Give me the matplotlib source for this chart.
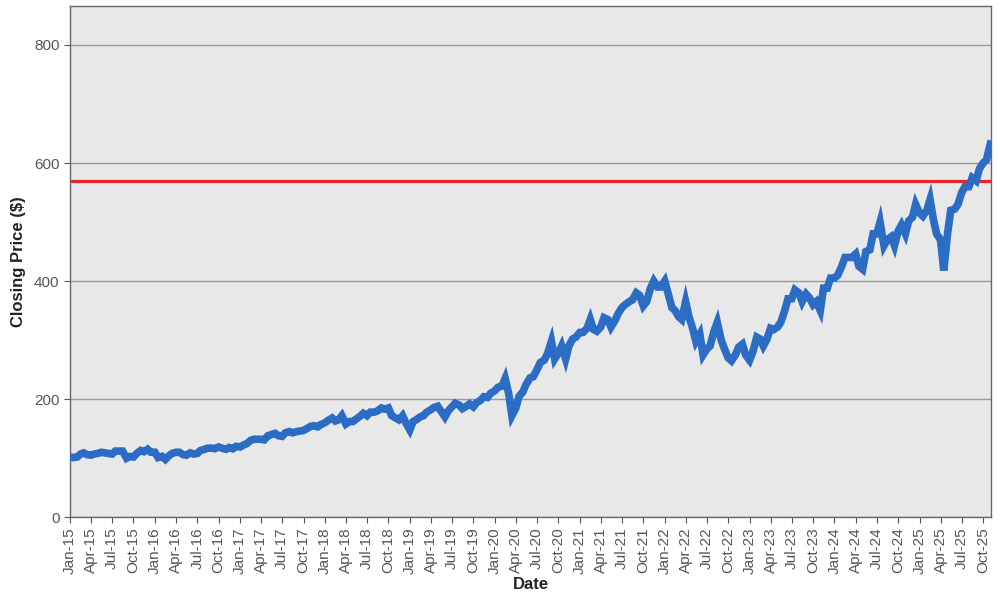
import numpy as np
import pandas as pd
import matplotlib
matplotlib.use("Agg")
import matplotlib.pyplot as plt
import matplotlib.dates as mdates

# semi-monthly closing prices (1st and 15th of each month)
p2015 = [102, 101, 102, 107, 109, 106, 105, 107, 108, 110, 109, 108,
         107, 112, 112, 112, 100, 103, 102, 108, 113, 111, 115, 110]
p2016 = [110, 101, 103, 98, 104, 108, 110, 110, 106, 105, 109, 107,
         108, 113, 115, 117, 117, 116, 119, 117, 115, 118, 116, 120]
p2017 = [119, 122, 125, 130, 132, 132, 132, 131, 138, 140, 142, 138,
         137, 143, 145, 143, 145, 146, 147, 150, 154, 155, 153, 157]
p2018 = [160, 164, 168, 163, 165, 172, 158, 162, 162, 166, 171, 176,
         172, 178, 178, 180, 185, 183, 185, 172, 168, 165, 172, 160]
p2019 = [148, 162, 166, 170, 172, 178, 182, 186, 188, 180, 170, 180,
         187, 193, 190, 184, 188, 192, 187, 194, 198, 204, 203, 210]
p2020 = [214, 220, 222, 235, 210, 172, 185, 205, 212, 225, 236, 238,
         250, 262, 266, 277, 298, 268, 278, 290, 268, 290, 302, 305]
p2021 = [313, 313, 320, 335, 318, 315, 322, 338, 335, 322, 333, 345,
         355, 360, 365, 368, 380, 376, 358, 365, 388, 400, 390, 390]
p2022 = [400, 380, 355, 350, 340, 335, 365, 340, 320, 298, 310, 275,
         285, 290, 315, 330, 300, 285, 270, 265, 275, 288, 293, 275]
p2023 = [266, 280, 305, 302, 290, 300, 320, 318, 322, 330, 350, 370,
         370, 385, 380, 365, 378, 372, 360, 365, 350, 388, 388, 405]
p2024 = [405, 410, 425, 440, 440, 440, 446, 425, 420, 450, 453, 480,
         480, 500, 460, 470, 475, 460, 485, 495, 480, 502, 508, 530]
p2025 = [515, 510, 520, 538, 505, 480, 470, 418, 480, 520, 522, 530,
         550, 560, 560, 575, 570, 590, 600, 605, 632]

prices = p2015 + p2016 + p2017 + p2018 + p2019 + p2020 + p2021 + p2022 + p2023 + p2024 + p2025
dates = pd.date_range("2015-01-01", periods=len(prices), freq="SMS")
threshold = 570

plt.rcParams["font.family"] = ["Liberation Sans", "DejaVu Sans"]

fig = plt.figure(figsize=(10, 6), dpi=100)
ax = fig.add_axes([0.07, 0.138, 0.921, 0.852])
ax.set_facecolor("#e8e8e8")

# red reference line under the price line
ax.axhline(threshold, color="#e3262a", lw=2.3, zorder=2)
ax.plot(dates, prices, color="#2b6cc4", lw=5.5, solid_joinstyle="miter", zorder=3)

ax.set_ylim(0, 866)
ax.set_xlim(dates[0], dates[-1] + pd.Timedelta(days=3))
ax.set_yticks([0, 200, 400, 600, 800])
ax.yaxis.grid(True, color="#9a9a9a", lw=1)
ax.set_axisbelow(True)

xt = pd.date_range("2015-01-01", "2025-10-01", freq="QS")
ax.set_xticks(xt)
ax.xaxis.set_major_formatter(mdates.DateFormatter("%b-%y"))
for lbl in ax.get_xticklabels():
    lbl.set_rotation(90)

ax.tick_params(colors="#555555", labelsize=11, length=4, width=0.8)
for s in ax.spines.values():
    s.set_color("#666666")
    s.set_linewidth(1)

ax.set_xlabel("Date", fontsize=12, fontweight="bold", color="#222222", labelpad=2)
ax.set_ylabel("Closing Price ($)", fontsize=12, fontweight="bold", color="#222222", labelpad=6)

fig.savefig("out.png", dpi=100)
